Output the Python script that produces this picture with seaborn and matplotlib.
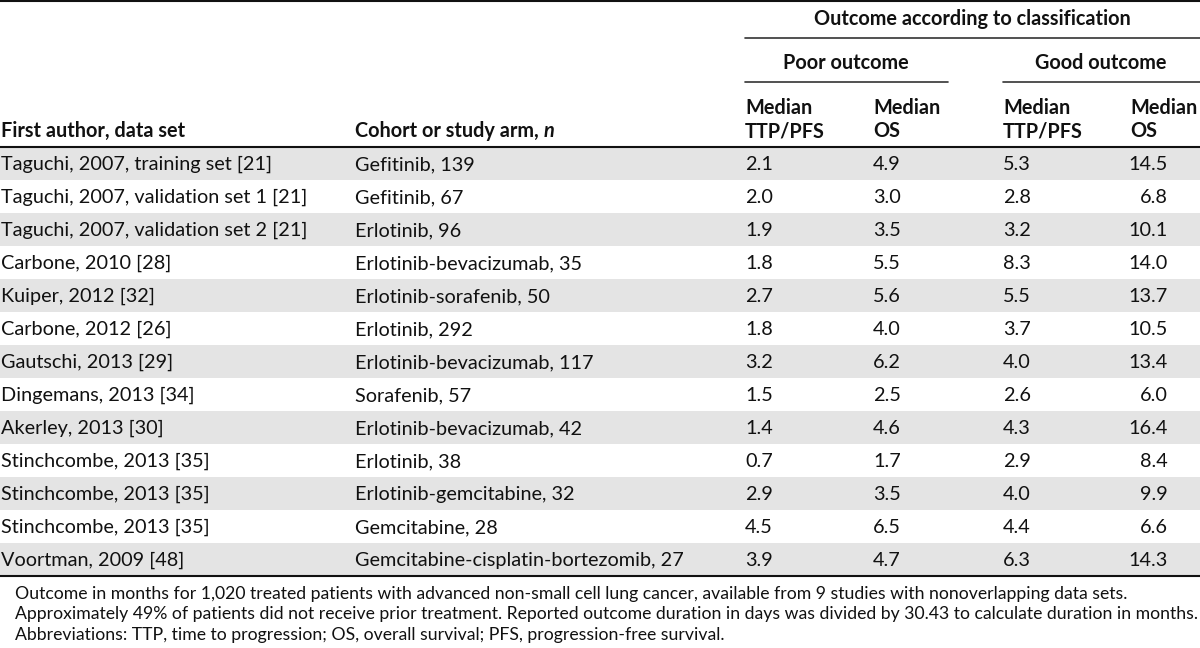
import matplotlib
matplotlib.use("Agg")
import matplotlib.pyplot as plt
import seaborn as sns

# ── table data ────────────────────────────────────────────────────────────────
authors = [
    "Taguchi, 2007, training set [21]",
    "Taguchi, 2007, validation set 1 [21]",
    "Taguchi, 2007, validation set 2 [21]",
    "Carbone, 2010 [28]",
    "Kuiper, 2012 [32]",
    "Carbone, 2012 [26]",
    "Gautschi, 2013 [29]",
    "Dingemans, 2013 [34]",
    "Akerley, 2013 [30]",
    "Stinchcombe, 2013 [35]",
    "Stinchcombe, 2013 [35]",
    "Stinchcombe, 2013 [35]",
    "Voortman, 2009 [48]",
]
arms = [
    "Gefitinib, 139",
    "Gefitinib, 67",
    "Erlotinib, 96",
    "Erlotinib-bevacizumab, 35",
    "Erlotinib-sorafenib, 50",
    "Erlotinib, 292",
    "Erlotinib-bevacizumab, 117",
    "Sorafenib, 57",
    "Erlotinib-bevacizumab, 42",
    "Erlotinib, 38",
    "Erlotinib-gemcitabine, 32",
    "Gemcitabine, 28",
    "Gemcitabine-cisplatin-bortezomib, 27",
]
poor_ttp = [2.1, 2.0, 1.9, 1.8, 2.7, 1.8, 3.2, 1.5, 1.4, 0.7, 2.9, 4.5, 3.9]
poor_os  = [4.9, 3.0, 3.5, 5.5, 5.6, 4.0, 6.2, 2.5, 4.6, 1.7, 3.5, 6.5, 4.7]
good_ttp = [5.3, 2.8, 3.2, 8.3, 5.5, 3.7, 4.0, 2.6, 4.3, 2.9, 4.0, 4.4, 6.3]
good_os  = [14.5, 6.8, 10.1, 14.0, 13.7, 10.5, 13.4, 6.0, 16.4, 8.4, 9.9, 6.6, 14.3]

footnotes = [
    "Outcome in months for 1,020 treated patients with advanced non-small cell lung cancer, "
    "available from 9 studies with nonoverlapping data sets.",
    "Approximately 49% of patients did not receive prior treatment. Reported outcome duration "
    "in days was divided by 30.43 to calculate duration in months.",
    "Abbreviations: TTP, time to progression; OS, overall survival; PFS, progression-free survival.",
]

# ── style ─────────────────────────────────────────────────────────────────────
sns.set_theme(style="white")
plt.rcParams["font.family"] = ["Lato", "DejaVu Sans"]

INK  = "#111111"
RULE = "#333333"
BAND = "#E4E4E4"
FS   = 14.3     # body + header text
FN   = 12.7     # footnote

W, H   = 1200, 648
HEAD_Y = 147
ROW_H  = 33.0
X_AUTH, X_ARM = 1, 355
X_COLS = [745, 873, 1003]
X_LAST = 1168   # right edge of last column

fig = plt.figure(figsize=(12, 6.48), dpi=100, facecolor="white")
ax = fig.add_axes([0, 0, 1, 1])
ax.set_xlim(0, W)
ax.set_ylim(H, 0)
ax.axis("off")

# ── header ────────────────────────────────────────────────────────────────────
bold = dict(fontsize=FS, fontweight="bold", color=INK, va="center")
ax.plot([0, W], [1, 1], color=INK, lw=1.5)
ax.text(972, 19, "Outcome according to classification", ha="center", **bold)
ax.plot([745, W], [38, 38], color=RULE, lw=1.2)
ax.text(846, 63, "Poor outcome", ha="center", **bold)
ax.plot([745, 948], [82, 82], color=RULE, lw=1.2)
ax.text(1101, 63, "Good outcome", ha="center", **bold)
ax.plot([1003, W], [82, 82], color=RULE, lw=1.2)

for x, sub in zip([745, 873, 1003, 1130], ["TTP/PFS", "OS", "TTP/PFS", "OS"]):
    ax.text(x, 108, "Median", ha="left", **bold)
    ax.text(x, 131, sub, ha="left", **bold)

ax.text(X_AUTH, 131, "First author, data set", ha="left", **bold)
t = ax.text(X_ARM, 131, "Cohort or study arm, ", ha="left", **bold)
fig.canvas.draw()
bb = t.get_window_extent(renderer=fig.canvas.get_renderer())
ax.text(X_ARM + bb.width, 131, "n", ha="left", fontstyle="italic", **bold)
ax.plot([0, W], [HEAD_Y, HEAD_Y], color=INK, lw=1.5)

# ── body rows ─────────────────────────────────────────────────────────────────
body = dict(fontsize=FS, color=INK, va="center")
for i, (a, arm, p1, p2, g1, g2) in enumerate(
        zip(authors, arms, poor_ttp, poor_os, good_ttp, good_os)):
    top = HEAD_Y + i * ROW_H
    if i % 2 == 0:
        ax.axhspan(top, top + ROW_H, color=BAND, lw=0, zorder=0)
    yc = top + ROW_H / 2 + 1
    ax.text(X_AUTH, yc, a, ha="left", **body)
    ax.text(X_ARM, yc, arm, ha="left", **body)
    for x, v in zip(X_COLS, [p1, p2, g1]):
        ax.text(x, yc, f"{v:.1f}", ha="left", **body)
    ax.text(X_LAST, yc, f"{g2:.1f}", ha="right", **body)

bottom = HEAD_Y + len(authors) * ROW_H
ax.plot([0, W], [bottom, bottom], color=INK, lw=1.5)

# ── footnotes ─────────────────────────────────────────────────────────────────
for k, line in enumerate(footnotes):
    ax.text(15, bottom + 18 + k * 20.5, line, ha="left", va="center",
            fontsize=FN, color=INK)

plt.savefig("out.png", dpi=100, facecolor="white")
plt.close()
